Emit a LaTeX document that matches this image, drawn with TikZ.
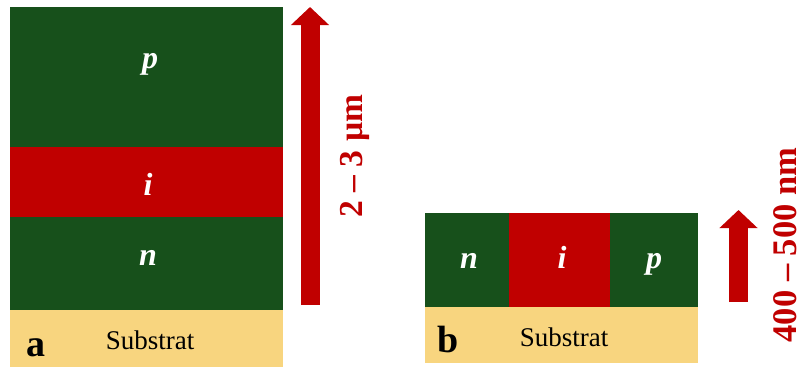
\documentclass[tikz,border=0pt]{standalone}
\usepackage{fontspec}
\setmainfont{Liberation Serif}
\usepackage{xcolor}
\usepackage{tikz}
\usetikzlibrary{arrows.meta, positioning}
\definecolor{cverde}{HTML}{17501B}
\definecolor{crojo}{HTML}{C00000}
\definecolor{carena}{HTML}{F8D57F}
\tikzset{
  capa/.style={rectangle, fill=#1, draw=none, inner sep=0pt, outer sep=0pt},
  tipo/.style={text=white, font=\fontsize{32}{32}\selectfont\bfseries\itshape, anchor=base, inner sep=0pt},
  sustrato/.style={font=\fontsize{27}{27}\selectfont, anchor=base, inner sep=0pt},
  panel/.style={font=\fontsize{38}{38}\selectfont\bfseries, anchor=base, inner sep=0pt},
  medida/.style={text=crojo, font=\fontsize{#1}{#1}\selectfont\bfseries, rotate=90, anchor=base, inner sep=0pt},
  flecha/.style={draw=crojo, line width=19pt, -{Triangle[length=18pt, width=37pt]}},
}

\begin{document}
\begin{tikzpicture}[x=1pt, y=-1pt]
        \useasboundingbox (0,0) rectangle (805,367);
        % panel a: vertical stack
        \node[capa=cverde, minimum width=273pt, minimum height=140pt, anchor=north west] (pa) at (10,7) {};
        \node[capa=crojo, minimum width=273pt, minimum height=70pt, below=0pt of pa] (ia) {};
        \node[capa=cverde, minimum width=273pt, minimum height=93pt, below=0pt of ia] (na) {};
        \node[capa=carena, minimum width=273pt, minimum height=57pt, below=0pt of na] (sa) {};
        \node[tipo] (tpa) at (150,68) {p};
        \node[tipo] (tia) at (148,195) {i};
        \node[tipo] (tna) at (148,265) {n};
        \node[sustrato] (tsa) at (150,349) {Substrat};
        \node[panel] (la) at (36,356) {a};
        \coordinate (a0) at (310,305);
        \coordinate (a1) at (310,7);
        \draw[flecha] (a0) -- (a1);
        \node[medida=33.5] (ma) at (362,156) {2 – 3 µm};
        % panel b: lateral junction
        \node[capa=cverde, minimum width=84pt, minimum height=94pt, anchor=north west] (nb) at (425,213) {};
        \node[capa=crojo, minimum width=101pt, minimum height=94pt, right=0pt of nb] (ib) {};
        \node[capa=cverde, minimum width=88pt, minimum height=94pt, right=0pt of ib] (pb) {};
        \node[capa=carena, minimum width=273pt, minimum height=56pt, anchor=north west] (sb) at (nb.south west) {};
        \node[tipo] (tnb) at (469,268) {n};
        \node[tipo] (tib) at (562,268) {i};
        \node[tipo] (tpb) at (654,268) {p};
        \node[sustrato] (tsb) at (564,346) {Substrat};
        \node[panel] (lb) at (448,352) {b};
        \coordinate (b0) at (738.5,302);
        \coordinate (b1) at (738.5,210);
        \draw[flecha] (b0) -- (b1);
        \node[medida=34.5] (mb) at (796,245) {400 – 500 nm};
    \end{tikzpicture}
\end{document}
